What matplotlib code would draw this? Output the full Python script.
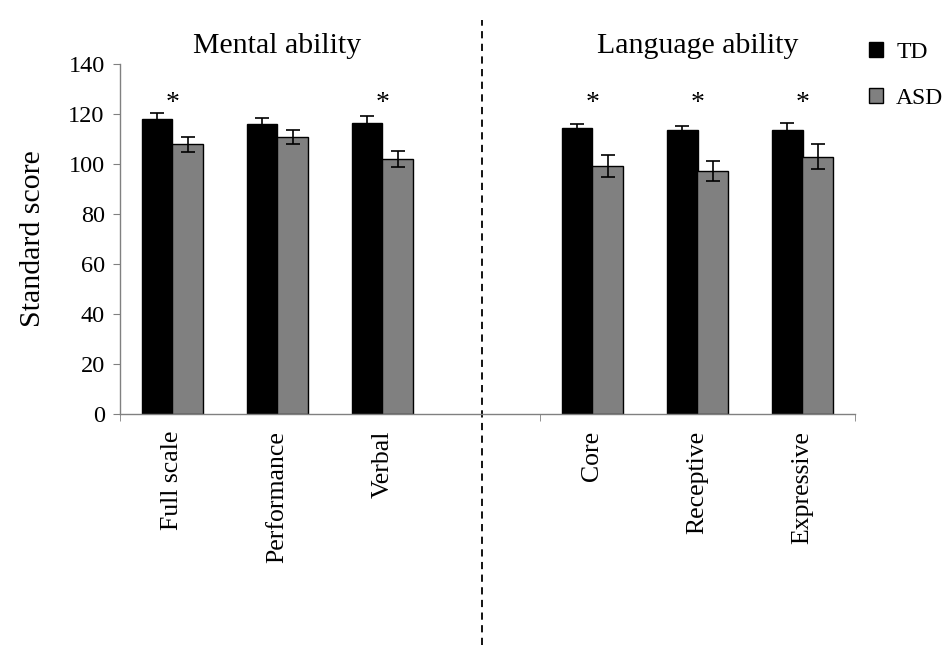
import matplotlib
matplotlib.use('Agg')
import matplotlib.pyplot as plt
import matplotlib.transforms as mtransforms
import numpy as np

plt.rcParams.update({
    'font.family': 'serif',
    'font.serif': ['Liberation Serif', 'DejaVu Serif'],
})

# Two groups of measures, separated by an empty slot
mental_labels = ['Full scale', 'Performance', 'Verbal']
language_labels = ['Core', 'Receptive', 'Expressive']
group_titles = ['Mental ability', 'Language ability']

td_mean = [117.9, 116.0, 116.5, 114.3, 113.6, 113.5]
td_err = [2.4, 2.5, 2.6, 1.6, 1.7, 2.9]
asd_mean = [107.9, 110.9, 102.0, 99.1, 97.1, 102.9]
asd_err = [3.1, 2.8, 3.2, 4.4, 4.0, 5.1]
significant = [True, False, True, True, True, True]

yticks = [0, 20, 40, 60, 80, 100, 120, 140]

labels = mental_labels + language_labels
x = np.concatenate([np.arange(len(mental_labels)),
                    np.arange(len(language_labels)) + len(mental_labels) + 1])
w = 0.29

fig = plt.figure(figsize=(9.53, 6.54), dpi=100)
ax = fig.add_axes([120 / 953, 1 - 414 / 654, 735 / 953, 350 / 654])

ekw = dict(ecolor='black', elinewidth=1.2, capsize=5, capthick=1.2)
b1 = ax.bar(x - w / 2, td_mean, w, color='black', edgecolor='black',
            linewidth=1, yerr=td_err, error_kw=ekw, label='TD', zorder=2)
b2 = ax.bar(x + w / 2, asd_mean, w, color='#808080', edgecolor='black',
            linewidth=1, yerr=asd_err, error_kw=ekw, label='ASD', zorder=2)

for xi, s in zip(x, significant):
    if s:
        ax.text(xi, 119.0, '*', ha='center', va='bottom', fontsize=20)

ax.set_xlim(-0.5, 6.5)
ax.set_ylim(0, 140)
ax.set_yticks(yticks)
ax.set_yticklabels([str(v) for v in yticks], fontsize=17.5)
ax.set_xticks(x)
ax.set_xticklabels(labels, rotation=90, fontsize=18.5)
ax.tick_params(axis='x', length=0, pad=12)
ax.set_xticks([-0.5, 3.5, 6.5], minor=True)
ax.tick_params(axis='x', which='minor', length=5, color='#808080', direction='out')
ax.tick_params(axis='y', length=5, color='#808080', direction='out', pad=6)

for side in ['top', 'right']:
    ax.spines[side].set_visible(False)
for side in ['left', 'bottom']:
    ax.spines[side].set_color('#808080')
    ax.spines[side].set_linewidth(1)

ax.set_ylabel('Standard score', fontsize=21.5, labelpad=16)

# group titles and dashed separator
trans = mtransforms.blended_transform_factory(ax.transData, ax.transAxes)
ax.text(1, 1.052, group_titles[0], transform=trans, ha='center', va='center', fontsize=21.5)
ax.text(5, 1.052, group_titles[1], transform=trans, ha='center', va='center', fontsize=21.5)
ax.plot([2.95, 2.95], [-0.66, 1.125], transform=trans, color='black',
        linewidth=1.3, linestyle=(0, (4, 3)), clip_on=False)

ax.legend(handles=[b1, b2], loc='upper left', bbox_to_anchor=(869 / 953, 1 - 42 / 654),
          bbox_transform=fig.transFigure, frameon=False, fontsize=17,
          handlelength=0.6, handleheight=0.6, handletextpad=0.55, labelspacing=1.05,
          borderpad=0, borderaxespad=0)

fig.savefig('out.png', dpi=100, facecolor='white')
